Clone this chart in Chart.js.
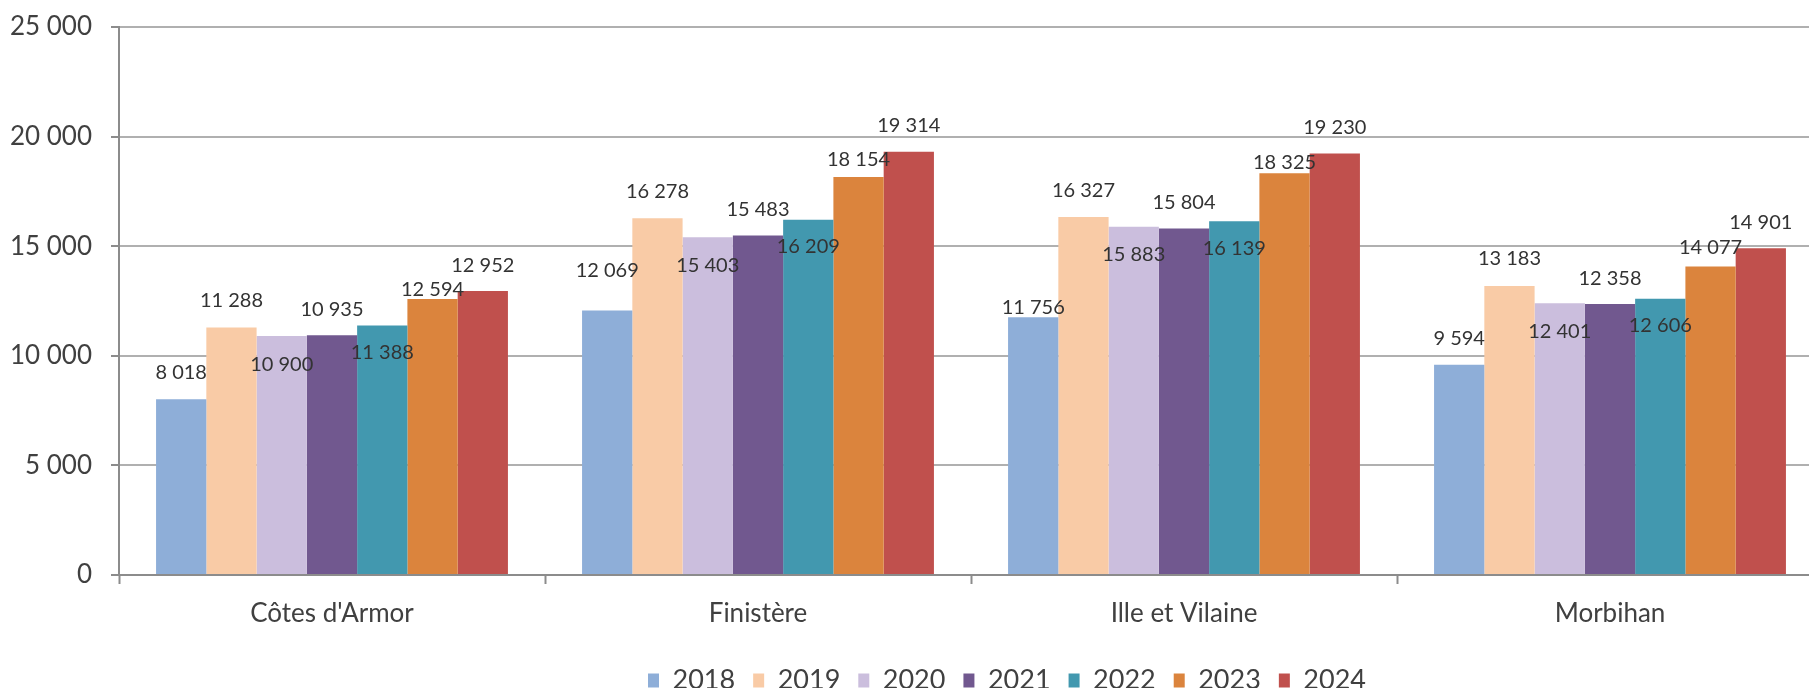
<!DOCTYPE html>
<html lang="fr">
<head>
<meta charset="utf-8">
<title>Bretagne 2018-2024</title>
<script src="https://cdn.jsdelivr.net/npm/chart.js@4/dist/chart.umd.min.js"></script>
<style>
    html, body { margin: 0; padding: 0; background: #fff; overflow: hidden; }
    #wrap { width: 1830px; height: 704px; }
</style>
</head>
<body>
<div id="wrap"><canvas id="barChart" width="1830" height="704"></canvas></div>
<script>
// Departments (x categories)
const departements = ['Côtes d\'Armor', 'Finistère', 'Ille et Vilaine', 'Morbihan'];

// One array per year, in the order of departements
const annees = ['2018', '2019', '2020', '2021', '2022', '2023', '2024'];
const v2018 = [8018, 12069, 11756, 9594];
const v2019 = [11288, 16278, 16327, 13183];
const v2020 = [10900, 15403, 15883, 12401];
const v2021 = [10935, 15483, 15804, 12358];
const v2022 = [11388, 16209, 16139, 12606];
const v2023 = [12594, 18154, 18325, 14077];
const v2024 = [12952, 19314, 19230, 14901];

// Y axis ticks
const yMin = 0;
const yMax = 25000;
const yStep = 5000;

const couleurs = ['#8EAED8', '#F9CBA6', '#CBBEDD', '#71588F', '#4298AF', '#DB843D', '#C0504D'];

// vertical shift of each value label (px above bar top, negative = inside the bar)
const labelLift = [
    [27, 40, 10, 26],
    [27, 27, 27, 27],
    [-28, -28, -28, -28],
    [26, 26, 26, 26],
    [-27, -27, -27, -27],
    [9, 18, 11, 19],
    [26, 26, 26, 26]
];

const FONT = 'Lato, "Open Sans", sans-serif';

function fmt(v) {
    return String(v).replace(/\B(?=(\d{3})+(?!\d))/g, ' ');
}

// Draw the value labels above / inside the bars
const valueLabels = {
    id: 'valueLabels',
    afterDatasetsDraw(chart) {
        const ctx = chart.ctx;
        ctx.save();
        ctx.font = '20px ' + FONT;
        ctx.fillStyle = '#333333';
        ctx.textAlign = 'center';
        ctx.textBaseline = 'middle';
        chart.data.datasets.forEach((ds, di) => {
            const meta = chart.getDatasetMeta(di);
            meta.data.forEach((bar, i) => {
                ctx.fillText(fmt(ds.data[i]), bar.x, bar.y - labelLift[di][i]);
            });
        });
        ctx.restore();
    }
};

// Move the legend so it sits where the original one is
const legendShift = {
    id: 'legendShift',
    afterLayout(chart) {
        chart.legend.left += 36;
        chart.legend.right += 36;
    }
};

const series = [v2018, v2019, v2020, v2021, v2022, v2023, v2024];

const ctx = document.getElementById('barChart').getContext('2d');
const barChart = new Chart(ctx, {
    type: 'bar',
    data: {
        labels: departements,
        datasets: series.map((vals, i) => ({
            label: annees[i],
            data: vals,
            backgroundColor: couleurs[i],
            borderWidth: 0,
            categoryPercentage: 0.826,
            barPercentage: 1.0
        }))
    },
    options: {
        responsive: false,
        animation: false,
        layout: { padding: { top: 27, right: 7, bottom: 0, left: 0 } },
        plugins: {
            legend: {
                position: 'bottom',
                fullSize: false,
                labels: {
                    font: { family: FONT, size: 27 },
                    color: '#404040',
                    boxWidth: 11,
                    boxHeight: 14,
                    padding: 18
                }
            },
            tooltip: { enabled: false }
        },
        scales: {
            x: {
                offset: true,
                grid: {
                    offset: true,
                    drawOnChartArea: false,
                    drawTicks: true,
                    tickLength: 9,
                    tickColor: '#8C8C8C',
                    tickWidth: 2
                },
                border: { color: '#8C8C8C', width: 2 },
                ticks: {
                    font: { family: FONT, size: 26 },
                    color: '#404040',
                    padding: 14
                },
                afterFit(scale) { scale.height = 74; }
            },
            y: {
                min: yMin,
                max: yMax,
                ticks: {
                    stepSize: yStep,
                    font: { family: FONT, size: 26 },
                    color: '#404040',
                    padding: 19,
                    callback: v => fmt(v)
                },
                grid: {
                    color: c => c.tick && c.tick.value === 0 ? 'rgba(0,0,0,0)' : '#B0B0B0',
                    lineWidth: 2,
                    borderDash: [2, 3],
                    tickLength: 8,
                    tickColor: '#8C8C8C',
                    tickWidth: 2,
                    tickBorderDash: []
                },
                border: { color: '#8C8C8C', width: 2 },
                afterFit(scale) {
                    scale.width = 119;
                    scale.paddingTop = 0;
                    scale.paddingBottom = 0;
                }
            }
        }
    },
    plugins: [valueLabels, legendShift]
});
</script>
</body>
</html>
